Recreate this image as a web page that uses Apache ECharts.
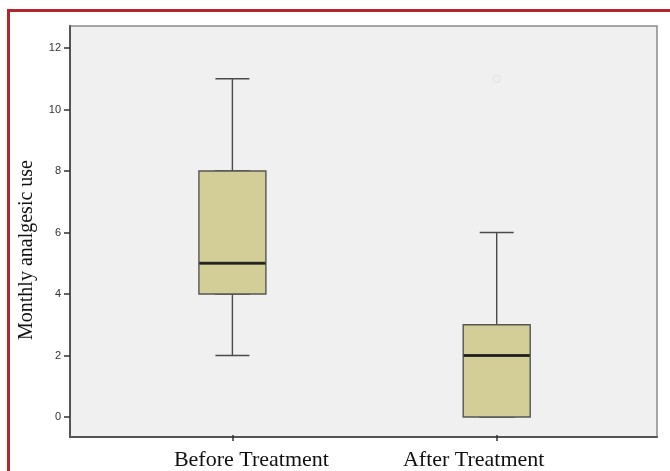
<!DOCTYPE html>
<html>
<head>
<meta charset="utf-8">
<script src="https://cdn.jsdelivr.net/npm/echarts@6/dist/echarts.min.js"></script>
<style>html,body{margin:0;padding:0;background:#fff;}#c{width:670px;height:471px;}</style>
</head>
<body>
<div id="c"></div>
<script>
var categories = ['Before Treatment', 'After Treatment'];
// [min whisker, Q1, median, Q3, max whisker]
var boxStats = [
  [2, 4, 5, 8, 11],
  [0, 0, 2, 3, 6]
];
var outliers = [[1, 11]]; // [category index, value]
var yTicks = { min: 0, max: 12, interval: 2 };

var whiskerData = boxStats;
var bodyData = boxStats.map(function (s) { return [s[1], s[1], s[2], s[3], s[3]]; });
var medianData = boxStats.map(function (s, i) { return [i, s[2]]; });

var chart = echarts.init(document.getElementById('c'), null, { renderer: 'canvas' });
chart.setOption({
  animation: false,
  backgroundColor: '#ffffff',
  graphic: [
    { type: 'rect', shape: { x: 8.5, y: 10.5, width: 720, height: 520 },
      style: { fill: 'none', stroke: '#b3262c', lineWidth: 3 }, z: 100 },
    { type: 'text', x: 27, y: 250, rotation: Math.PI / 2,
      style: { text: 'Monthly analgesic use', font: '20px "Liberation Serif"', fill: '#111',
               align: 'center', verticalAlign: 'middle' }, z: 100 }
  ],
  grid: [
    { left: 70, top: 26, right: 13, bottom: 34, show: true, backgroundColor: '#f0f0f0',
      borderColor: '#8a8a8a', borderWidth: 1.5 },
    { left: 100.25, right: 41.15, top: 48, bottom: 54 },
    { left: 100.25, right: 41.15, top: 26, bottom: 34 }
  ],
  xAxis: [
    { gridIndex: 0, type: 'value', min: 0, max: 1, axisLabel: { show: false }, axisTick: { show: false },
      splitLine: { show: false }, axisLine: { show: true, lineStyle: { color: '#555', width: 2 } } },
    { gridIndex: 1, type: 'category', data: categories, show: false },
    { gridIndex: 1, type: 'category', data: categories, show: false },
    { gridIndex: 2, type: 'category', data: categories,
      axisLine: { show: false },
      axisTick: { show: true, alignWithLabel: true, length: 6, lineStyle: { color: '#333', width: 1.5 } },
      axisLabel: {
        margin: 14,
        formatter: function (v, i) { return i === 0 ? '{b|' + v + '}' : '{a|' + v + '}'; },
        rich: {
          b: { fontFamily: 'Liberation Serif', fontSize: 22, color: '#111', padding: [0, 0, 0, 38] },
          a: { fontFamily: 'Liberation Serif', fontSize: 22, color: '#111', padding: [0, 46, 0, 0] }
        }
      } }
  ],
  yAxis: [
    { gridIndex: 0, type: 'value', min: 0, max: 1, axisLabel: { show: false }, axisTick: { show: false },
      splitLine: { show: false }, axisLine: { show: true, lineStyle: { color: '#555', width: 2 } } },
    { gridIndex: 1, type: 'value', min: yTicks.min, max: yTicks.max, interval: yTicks.interval, offset: 30.25,
      axisLine: { show: false }, splitLine: { show: false },
      axisTick: { show: true, length: 6, lineStyle: { color: '#333', width: 1.5 } },
      axisLabel: { margin: 9, fontFamily: 'Liberation Sans', fontSize: 11, color: '#333' } },
    { gridIndex: 2, type: 'value', min: 0, max: 1, show: false }
  ],
  series: [
    { type: 'boxplot', name: 'whiskers', xAxisIndex: 1, yAxisIndex: 1, data: whiskerData,
      boxWidth: [34, 34], z: 2,
      itemStyle: { color: '#d3cd98', borderColor: '#4a4a4a', borderWidth: 1.4 } },
    { type: 'boxplot', name: 'boxes', xAxisIndex: 2, yAxisIndex: 1, data: bodyData,
      boxWidth: [67, 67], z: 3,
      itemStyle: { color: '#d3cd98', borderColor: '#555', borderWidth: 1.4 } },
    { type: 'scatter', name: 'median', xAxisIndex: 1, yAxisIndex: 1, data: medianData,
      symbol: 'rect', symbolSize: [66, 3], z: 4, itemStyle: { color: '#111' } },
    { type: 'scatter', name: 'outliers', xAxisIndex: 1, yAxisIndex: 1, data: outliers,
      symbol: 'circle', symbolSize: 7, z: 4,
      itemStyle: { color: 'rgba(0,0,0,0)', borderColor: '#e4e4e4', borderWidth: 1.5 } }
  ]
});
</script>
</body>
</html>
